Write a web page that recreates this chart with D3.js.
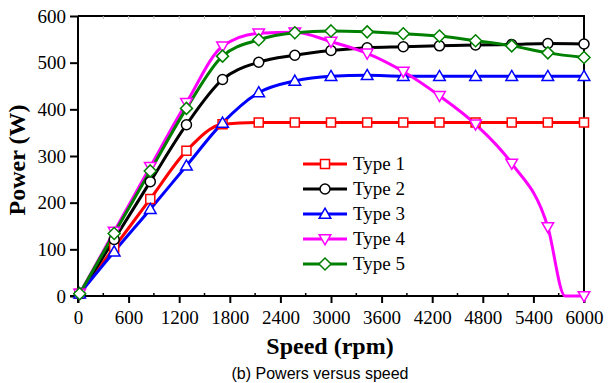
<!DOCTYPE html>
<html>
<head>
<meta charset="utf-8">
<script src="https://cdn.jsdelivr.net/npm/d3@7"></script>
<style>
  body { margin: 0; background: #fff; }
  svg { display: block; }
</style>
</head>
<body>
<script>
// speeds where markers sit (rpm)
const speeds = [20, 429, 857, 1286, 1714, 2143, 2571, 3000, 3429, 3857, 4286, 4714, 5143, 5571, 6000];

const type1 = [5, 104, 208, 311, 368, 372, 372, 372, 372, 372, 372, 372, 372, 372, 372];
const type2 = [5, 121, 245, 367, 464, 501, 516, 526, 532, 534, 536, 538, 539, 541, 540];
const type3 = [5, 95, 186, 279, 371, 436, 461, 471, 473, 471, 471, 471, 471, 471, 471];
const type4 = [5, 138, 277, 414, 535, 563, 565, 545, 520, 481, 429, 368, 284, 148, 0];
const type5 = [5, 134, 268, 402, 514, 549, 564, 568, 566, 562, 557, 547, 536, 521, 511];

// type 4 line hits zero before 6000 rpm
const type4Knee = [[5775, 0], [5950, 0]];

const xTicks = [0, 600, 1200, 1800, 2400, 3000, 3600, 4200, 4800, 5400, 6000];
const yTicks = [0, 100, 200, 300, 400, 500, 600];

const series = [
  {name: "Type 1", values: type1, color: "#ff0000", symbol: "square"},
  {name: "Type 2", values: type2, color: "#000000", symbol: "circle"},
  {name: "Type 3", values: type3, color: "#0000ff", symbol: "up"},
  {name: "Type 4", values: type4, color: "#ff00ff", symbol: "down"},
  {name: "Type 5", values: type5, color: "#008000", symbol: "diamond"}
];

const width = 608, height = 383;
const pLeft = 78, pRight = 584, pTop = 16, pBottom = 296;

const svg = d3.select("body").append("svg")
  .attr("width", width)
  .attr("height", height);

const x = d3.scaleLinear().domain([0, 6000]).range([pLeft, pRight]);
const y = d3.scaleLinear().domain([0, 600]).range([pBottom, pTop]);

const serif = "'Liberation Serif', 'Times New Roman', serif";

// frame (top and right)
svg.append("path")
  .attr("d", `M${pLeft},${pTop}H${pRight}V${pBottom + 7}`)
  .attr("fill", "none")
  .attr("stroke", "#000")
  .attr("stroke-width", 2);

// minor ticks on top edge
svg.append("g")
  .selectAll("line")
  .data(d3.range(300, 6000, 300))
  .enter()
  .append("line")
  .attr("x1", d => x(d)).attr("x2", d => x(d))
  .attr("y1", pTop).attr("y2", pTop + 3)
  .attr("stroke", "#bbb")
  .attr("stroke-width", 1);

// x axis
const xAxis = svg.append("g")
  .attr("transform", `translate(0,${pBottom})`)
  .call(d3.axisBottom(x).tickValues(xTicks).tickFormat(d3.format("d")).tickSize(7).tickPadding(8));

// minor x ticks (inward)
svg.append("g")
  .selectAll("line")
  .data(d3.range(300, 6000, 600))
  .enter()
  .append("line")
  .attr("x1", d => x(d)).attr("x2", d => x(d))
  .attr("y1", pBottom).attr("y2", pBottom - 3)
  .attr("stroke", "#000")
  .attr("stroke-width", 1.5);

// y axis
const yAxis = svg.append("g")
  .attr("transform", `translate(${pLeft},0)`)
  .call(d3.axisLeft(y).tickValues(yTicks).tickSize(8).tickPadding(4));

[xAxis, yAxis].forEach(g => {
  g.attr("font-family", null).attr("font-size", null);
  g.select(".domain").remove();
  g.selectAll(".tick line").attr("stroke-width", 2);
  g.selectAll("text")
    .style("font-family", serif)
    .style("font-size", "19px")
    .attr("fill", "#000");
});

// axis lines drawn manually so they meet the ticks
svg.append("line")
  .attr("x1", pLeft - 8).attr("x2", pRight)
  .attr("y1", pBottom).attr("y2", pBottom)
  .attr("stroke", "#000").attr("stroke-width", 2);
svg.append("line")
  .attr("x1", pLeft).attr("x2", pLeft)
  .attr("y1", pTop).attr("y2", pBottom + 7)
  .attr("stroke", "#000").attr("stroke-width", 2);

// lines
const line = d3.line()
  .x(d => x(d[0]))
  .y(d => y(d[1]))
  .curve(d3.curveMonotoneX);

function linePoints(s) {
  let pts = speeds.map((sp, i) => [sp, s.values[i]]);
  if (s.name === "Type 4") {
    pts = pts.slice(0, -1).concat(type4Knee, [pts[pts.length - 1]]);
  }
  return pts;
}

series.forEach(s => {
  svg.append("path")
    .datum(linePoints(s))
    .attr("d", line)
    .attr("fill", "none")
    .attr("stroke", s.color)
    .attr("stroke-width", 3);
});

// marker shapes
function symbolPath(sym) {
  if (sym === "square") return "M-4.5,-4.5H4.5V4.5H-4.5Z";
  if (sym === "circle") return "M5,0A5,5 0 1,1 -5,0A5,5 0 1,1 5,0Z";
  if (sym === "up") return "M0,-5.8L5.8,4.3H-5.8Z";
  if (sym === "down") return "M0,5.8L5.8,-4.3H-5.8Z";
  if (sym === "diamond") return "M0,-6L6,0L0,6L-6,0Z";
}

series.forEach(s => {
  svg.append("g")
    .selectAll("path")
    .data(speeds.map((sp, i) => [sp, s.values[i]]))
    .enter()
    .append("path")
    .attr("transform", d => `translate(${x(d[0])},${y(d[1])})`)
    .attr("d", symbolPath(s.symbol))
    .attr("fill", "#fff")
    .attr("stroke", s.color)
    .attr("stroke-width", 1.5);
});

// legend
const legend = svg.append("g");
series.forEach((s, i) => {
  const ly = 164 + i * 25;
  legend.append("line")
    .attr("x1", 303).attr("x2", 347)
    .attr("y1", ly).attr("y2", ly)
    .attr("stroke", s.color)
    .attr("stroke-width", 3);
  legend.append("path")
    .attr("transform", `translate(325,${ly})`)
    .attr("d", symbolPath(s.symbol))
    .attr("fill", "#fff")
    .attr("stroke", s.color)
    .attr("stroke-width", 1.5);
  legend.append("text")
    .attr("x", 353)
    .attr("y", ly + 6)
    .style("font-family", serif)
    .style("font-size", "19px")
    .text(s.name);
});

// axis titles
svg.append("text")
  .attr("x", 330)
  .attr("y", 354)
  .attr("text-anchor", "middle")
  .style("font-family", serif)
  .style("font-weight", "bold")
  .style("font-size", "24px")
  .text("Speed (rpm)");

svg.append("text")
  .attr("transform", `translate(25,160) rotate(-90)`)
  .attr("text-anchor", "middle")
  .style("font-family", serif)
  .style("font-weight", "bold")
  .style("font-size", "24px")
  .text("Power (W)");

// caption
svg.append("text")
  .attr("x", 320)
  .attr("y", 379)
  .attr("text-anchor", "middle")
  .style("font-family", "'Liberation Sans', Arial, sans-serif")
  .style("font-size", "16px")
  .text("(b) Powers versus speed");
</script>
</body>
</html>
